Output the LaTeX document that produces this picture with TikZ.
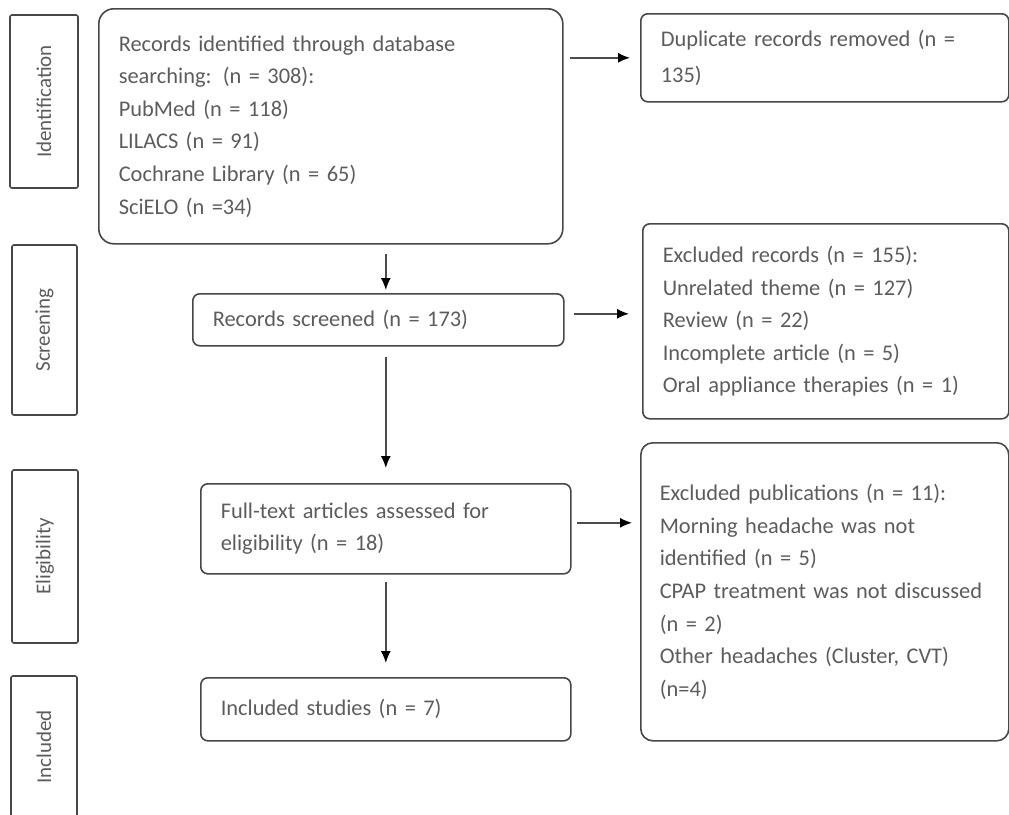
\documentclass[tikz,border=0pt]{standalone}
\usepackage{fontspec}
\setmainfont{Carlito}
\usepackage{tikz}
\usetikzlibrary{positioning,arrows.meta,calc}

\tikzset{
  flowbox/.style={draw=black!72, line width=1.6pt, rounded corners=7pt, text=black!64,
    align=left, anchor=north west, inner xsep=20pt, inner ysep=0pt,
    font=\fontsize{22.4}{32.6}\selectfont},
  phase/.style={draw=black!72, line width=1.6pt, rounded corners=2pt, text=black!64,
    inner sep=0pt, rotate=90, font=\fontsize{21}{24}\selectfont},
  flow/.style={-{Latex[length=12pt,width=10pt,black]}, draw=black!70, line width=1.4pt}
}

\begin{document}
\begin{tikzpicture}[x=1pt, y=-1pt]
\useasboundingbox (0,0) rectangle (1009,814);

% phases
\node[phase, minimum width=173pt, minimum height=68pt] (pid) at (44,101.5) {Identification};
\node[phase, minimum width=170pt, minimum height=65pt] (psc) at (44.5,330) {Screening};
\node[phase, minimum width=173pt, minimum height=66pt] (pel) at (45,556.5) {Eligibility};
\node[phase, minimum width=142pt, minimum height=66pt] (pin) at (44,747) {Included};

% main column
\node[flowbox, rounded corners=15pt, text width=424pt, minimum height=235pt] (rec) at (98,8)
  {Records identified through database\\searching: (n = 308):\\PubMed (n = 118)\\LILACS (n = 91)\\Cochrane Library (n = 65)\\SciELO (n =34)};
\node[flowbox, text width=331pt, minimum height=52pt] (scr) at (192,293)
  {Records screened (n = 173)};
\node[flowbox, text width=330pt, minimum height=90pt] (ft) at (200,483)
  {Full-text articles assessed for\\eligibility (n = 18)};
\node[flowbox, text width=330pt, minimum height=63pt] (inc) at (200,677)
  {Included studies (n = 7)};

% exclusions
\node[flowbox, text width=328pt, minimum height=88pt, font=\fontsize{22.4}{36}\selectfont] (dup) at (640,13)
  {Duplicate records removed (n =\\135)};
\node[flowbox, text width=326pt, minimum height=195pt] (exr) at (642,223)
  {Excluded records (n = 155):\\Unrelated theme (n = 127)\\Review (n = 22)\\Incomplete article (n = 5)\\Oral appliance therapies (n = 1)};
\node[flowbox, rounded corners=12pt, text width=330pt, inner xsep=19pt, minimum height=298pt] (exp) at (640,442)
  {Excluded publications (n = 11):\\Morning headache was not\\identified (n = 5)\\CPAP treatment was not discussed\\(n = 2)\\Other headaches (Cluster, CVT)\\(n=4)};

% arrows
\draw[flow, shorten <=6pt, shorten >=10pt] (rec.east |- dup.west) -- (dup.west);
\draw[flow, shorten <=9pt, shorten >=3pt] (rec.south -| ft.north) -- (scr.north -| ft.north);
\draw[flow, shorten <=9pt, shorten >=13pt] ([yshift=6pt]scr.east) -- ([yshift=6pt]scr.east -| exr.west);
\draw[flow, shorten <=10pt, shorten >=15pt] (scr.south -| ft.north) -- (ft.north);
\draw[flow, shorten <=5pt, shorten >=8pt] ([yshift=6pt]ft.east) -- ([yshift=6pt]ft.east -| exp.west);
\draw[flow, shorten <=7pt, shorten >=14pt] (ft.south) -- (inc.north);

\end{tikzpicture}
\end{document}
